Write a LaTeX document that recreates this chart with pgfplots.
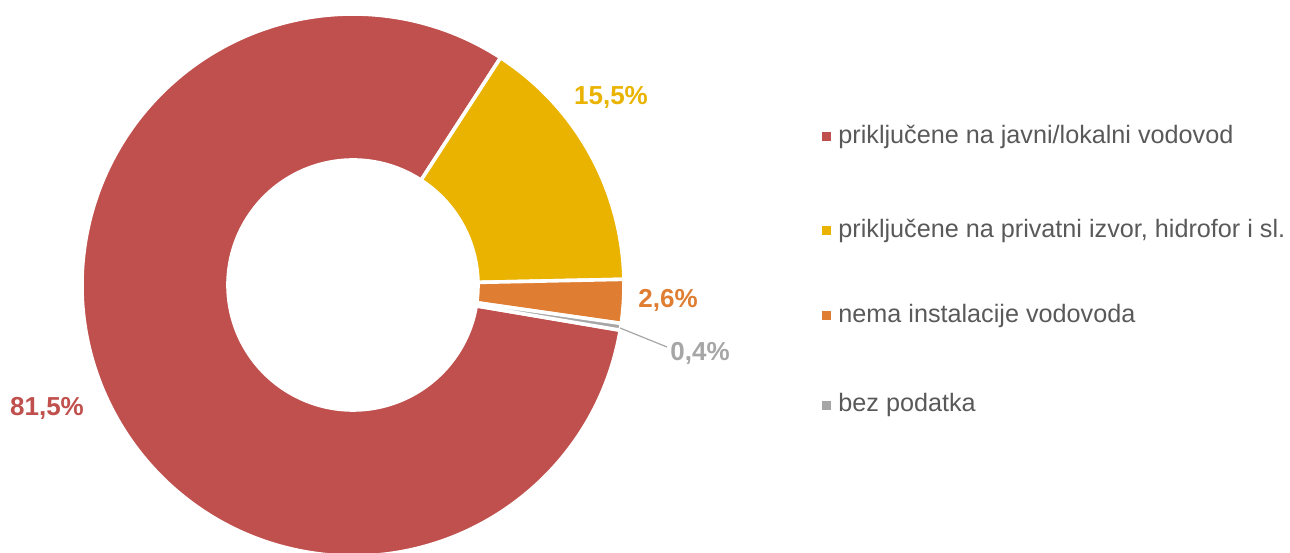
\documentclass[border=0pt]{standalone}
\usepackage{pgfplots}
\pgfplotsset{compat=1.18}
\usepackage{fontspec}
\setmainfont{Liberation Sans}
\usetikzlibrary{calc}
\definecolor{cRed}{HTML}{C0504D}
\definecolor{cYel}{HTML}{E9B300}
\definecolor{cOra}{HTML}{DF7E33}
\definecolor{cGry}{HTML}{A6A6A6}
\definecolor{cTxt}{HTML}{595959}
% data (percent)
\def\vA{81.5}\def\vB{15.5}\def\vC{2.6}\def\vD{0.4}
\newcommand\slice[3]{%
  \fill[#3, draw=white, line width=1.8pt, line join=miter]
    ($(C)+(#1:135.5pt)$) arc[start angle=#1, end angle=#2, radius=135.5pt]
    -- ($(C)+(#2:62.5pt)$) arc[start angle=#2, end angle=#1, radius=62.5pt] -- cycle;}
\begin{document}
\begin{tikzpicture}
\pgfmathsetmacro\aA{57}
\pgfmathsetmacro\aB{\aA-3.6*\vB}
\pgfmathsetmacro\aC{\aB-3.6*\vC}
\pgfmathsetmacro\aD{\aC-3.6*\vD}
\pgfmathsetmacro\aE{\aD-3.6*\vA}
\begin{axis}[x=0.5pt, y=0.5pt, xmin=0, xmax=1290, ymin=0, ymax=552,
  hide axis, clip=true]
\addplot[draw=none, forget plot] coordinates {(0,0) (1290,552)};
\path (axis cs:0,0) rectangle (axis cs:1290,552);
\coordinate (C) at (axis cs:353,267);
\slice{\aD}{\aE}{cRed}
\slice{\aA}{\aB}{cYel}
\slice{\aB}{\aC}{cOra}
\slice{\aC}{\aD}{cGry}
% labels
\node[font=\fontsize{13}{15}\selectfont\bfseries, text=cYel] at (axis cs:611,455) {15,5\%};
\node[font=\fontsize{13}{15}\selectfont\bfseries, text=cOra] at (axis cs:668,252) {2,6\%};
\node[font=\fontsize{13}{15}\selectfont\bfseries, text=cGry] at (axis cs:700,199) {0,4\%};
\node[font=\fontsize{13}{15}\selectfont\bfseries, text=cRed] at (axis cs:47,144) {81,5\%};
\draw[cGry, line width=0.6pt] (axis cs:620,224) -- (axis cs:667,205);
% legend
\fill[cRed] (axis cs:821.5,410.5) rectangle (axis cs:830.5,419.5);
\fill[cYel] (axis cs:821.5,316.5) rectangle (axis cs:830.5,325.5);
\fill[cOra] (axis cs:821.5,231.5) rectangle (axis cs:830.5,240.5);
\fill[cGry] (axis cs:821.5,142.5) rectangle (axis cs:830.5,151.5);
\begin{scope}[every node/.style={anchor=west, inner sep=0pt, text=cTxt, font=\fontsize{12.6}{15}\selectfont}]
\node at (axis cs:838,415) {priključene na javni/lokalni vodovod};
\node at (axis cs:838,321) {priključene na privatni izvor, hidrofor i sl.};
\node at (axis cs:838,236) {nema instalacije vodovoda};
\node at (axis cs:838,147) {bez podatka};
\end{scope}
\end{axis}
\end{tikzpicture}
\end{document}
